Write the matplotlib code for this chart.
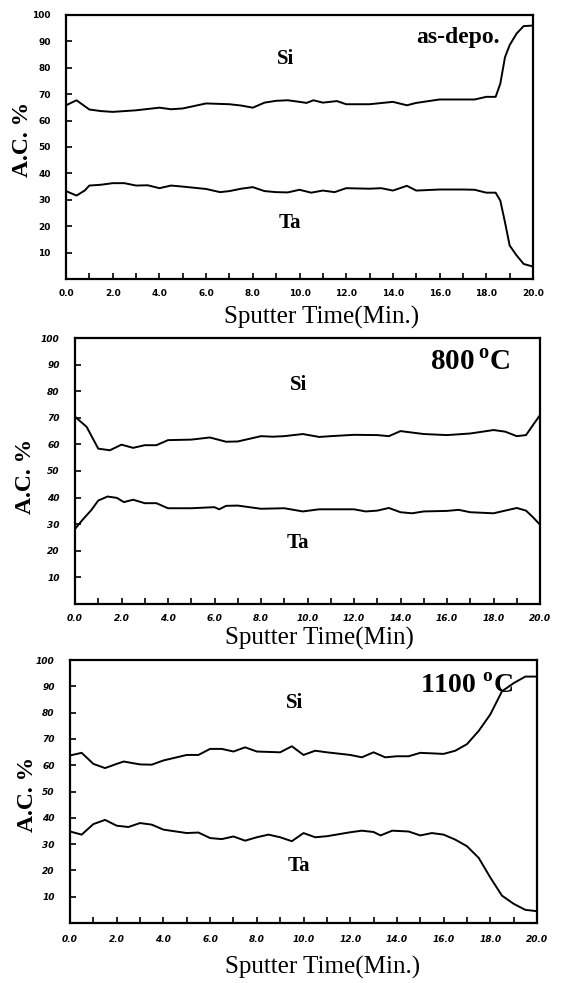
import numpy as np
import matplotlib.pyplot as plt

# depth profiles: atomic concentration (%) vs sputter time (min)
t_asdep = [0, 0.45, 1.0, 1.5, 2.0, 3.0, 4.0, 4.5, 5.0, 6.0, 7.0, 7.5, 8.0, 8.5, 9.0, 9.5, 10.0,
           10.3, 10.6, 11.0, 11.6, 12.0, 13.0, 14.0, 14.6, 15.0, 16.0, 17.0, 17.5, 18.0, 18.4,
           18.6, 18.8, 19.0, 19.3, 19.6, 20.0]
si_asdep = [65.8, 67.7, 64.2, 63.6, 63.3, 63.9, 64.9, 64.3, 64.6, 66.5, 66.2, 65.7, 64.9, 66.8,
            67.5, 67.7, 67.1, 66.7, 67.7, 66.8, 67.4, 66.2, 66.2, 67.1, 65.8, 66.7, 68.0, 68.0,
            68.0, 69.0, 69.0, 74.0, 84.0, 88.6, 93.0, 95.8, 96.0]
t_asdep_ta = [0, 0.45, 0.8, 1.0, 1.5, 2.0, 2.5, 3.0, 3.5, 4.0, 4.5, 5.0, 6.0, 6.6, 7.0, 7.5, 8.0,
              8.5, 9.0, 9.5, 10.0, 10.5, 11.0, 11.5, 12.0, 13.0, 13.5, 14.0, 14.6, 15.0, 16.0,
              17.0, 17.5, 18.0, 18.4, 18.6, 18.8, 19.0, 19.3, 19.6, 20.0]
ta_asdep = [33.3, 31.6, 33.5, 35.4, 35.7, 36.3, 36.3, 35.4, 35.5, 34.4, 35.4, 35.0, 34.1, 32.9,
            33.3, 34.2, 34.8, 33.3, 32.9, 32.8, 33.8, 32.7, 33.5, 32.9, 34.4, 34.2, 34.4, 33.5,
            35.3, 33.5, 33.9, 33.9, 33.8, 32.7, 32.7, 29.7, 21.5, 12.7, 8.9, 5.7, 4.7]

t_800 = [0, 0.5, 1.0, 1.5, 2.0, 2.5, 3.0, 3.5, 4.0, 5.0, 5.8, 6.5, 7.0, 8.0, 8.5, 9.0, 9.8,
         10.5, 11.0, 12.0, 13.0, 13.5, 14.0, 15.0, 16.0, 17.0, 18.0, 18.5, 19.0, 19.4, 19.7, 20.0]
si_800 = [70.4, 66.6, 58.4, 57.8, 59.9, 58.7, 59.7, 59.7, 61.6, 61.8, 62.6, 61.0, 61.1, 63.1,
          62.9, 63.1, 63.9, 62.8, 63.1, 63.6, 63.5, 63.1, 65.0, 63.9, 63.5, 64.1, 65.4, 64.8,
          63.1, 63.5, 67.3, 71.0]
t_800_ta = [0, 0.3, 0.7, 1.0, 1.4, 1.8, 2.1, 2.5, 3.0, 3.5, 4.0, 5.0, 6.0, 6.2, 6.5, 7.0, 7.5,
            8.0, 9.0, 9.8, 10.5, 11.0, 12.0, 12.5, 13.0, 13.5, 14.0, 14.5, 15.0, 16.0, 16.5,
            17.0, 18.0, 18.5, 19.0, 19.4, 19.7, 20.0]
ta_800 = [28.2, 31.4, 35.3, 38.9, 40.4, 39.9, 38.3, 39.2, 37.9, 37.9, 36.0, 36.0, 36.4, 35.6,
          36.9, 37.0, 36.4, 35.8, 36.0, 34.8, 35.6, 35.6, 35.6, 34.8, 35.1, 36.1, 34.5, 34.1,
          34.8, 35.0, 35.4, 34.5, 34.1, 35.1, 36.1, 35.1, 32.6, 29.8]

t_1100 = [0, 0.5, 1.0, 1.5, 2.0, 2.3, 3.0, 3.5, 4.0, 5.0, 5.5, 6.0, 6.5, 7.0, 7.5, 8.0, 9.0,
          9.5, 10.0, 10.5, 11.0, 12.0, 12.5, 13.0, 13.5, 14.0, 14.5, 15.0, 16.0, 16.5, 17.0,
          17.5, 18.0, 18.5, 19.0, 19.5, 20.0]
si_1100 = [63.7, 64.7, 60.5, 58.9, 60.5, 61.4, 60.3, 60.2, 61.8, 63.9, 63.9, 66.2, 66.2, 65.2,
           66.8, 65.2, 64.9, 67.2, 63.9, 65.5, 64.9, 63.9, 63.0, 64.9, 63.0, 63.4, 63.4, 64.7,
           64.3, 65.5, 68.0, 73.0, 79.3, 88.1, 91.2, 93.7, 93.7]
t_1100_ta = [0, 0.5, 1.0, 1.5, 2.0, 2.5, 3.0, 3.5, 4.0, 5.0, 5.5, 6.0, 6.5, 7.0, 7.5, 8.0, 8.5,
             9.0, 9.5, 10.0, 10.5, 11.0, 12.0, 12.5, 13.0, 13.3, 13.8, 14.5, 15.0, 15.5, 16.0,
             16.5, 17.0, 17.5, 18.0, 18.5, 19.0, 19.5, 20.0]
ta_1100 = [34.8, 33.6, 37.6, 39.2, 37.0, 36.5, 38.0, 37.4, 35.5, 34.2, 34.4, 32.3, 31.9, 32.9,
           31.3, 32.6, 33.6, 32.6, 31.1, 34.2, 32.6, 33.0, 34.5, 35.1, 34.6, 33.3, 35.1, 34.8,
           33.3, 34.2, 33.6, 31.7, 29.2, 24.8, 17.3, 10.4, 7.3, 5.0, 4.5]

W, H = 561, 983


def px_rect(x0, x1, ytop, ybot):
    return [x0 / W, 1 - ybot / H, (x1 - x0) / W, (ybot - ytop) / H]


panels = [
    dict(rect=px_rect(66, 533, 15, 279), t_si=t_asdep, si=si_asdep, t_ta=t_asdep_ta, ta=ta_asdep,
         tag='as-depo.', tag_xy=(16.8, 91.5), tag_size=17, si_xy=(9.4, 83.5), ta_xy=(9.6, 21.3),
         xlabel='Sputter Time(Min.)', xlab_xy=(0.548, -0.102), ylab_xy=(-0.071, 0.53),
         italic=False, xpad=7),
    dict(rect=px_rect(75, 540, 338, 604), t_si=t_800, si=si_800, t_ta=t_800_ta, ta=ta_800,
         tag='800$\\,^{\\mathbf{o}}$C', tag_xy=(17.0, 91), tag_size=21, si_xy=(9.6, 82.3), ta_xy=(9.6, 23),
         xlabel='Sputter Time(Min)', xlab_xy=(0.525, -0.085), ylab_xy=(-0.084, 0.48),
         italic=True, xpad=7),
    dict(rect=px_rect(70, 537, 660, 923), t_si=t_1100, si=si_1100, t_ta=t_1100_ta, ta=ta_1100,
         tag='1100 $^{\\mathbf{o}}$C', tag_xy=(17.0, 90), tag_size=20, si_xy=(9.6, 83.8), ta_xy=(9.8, 21.8),
         xlabel='Sputter Time(Min.)', xlab_xy=(0.54, -0.125), ylab_xy=(-0.069, 0.49),
         italic=True, xpad=9),
]

serif = ['Liberation Serif', 'DejaVu Serif']
plt.rcParams['mathtext.fontset'] = 'custom'
plt.rcParams['mathtext.rm'] = 'Liberation Serif'
plt.rcParams['mathtext.bf'] = 'Liberation Serif:bold'

fig = plt.figure(figsize=(W / 100, H / 100), dpi=100)

for p in panels:
    ax = fig.add_axes(p['rect'])
    ax.plot(p['t_si'], p['si'], color='black', linewidth=1.4)
    ax.plot(p['t_ta'], p['ta'], color='black', linewidth=1.4)
    ax.set_xlim(0, 20)
    ax.set_ylim(0, 100)
    ax.set_xticks(np.arange(0, 21, 2))
    ax.set_xticks(np.arange(1, 20, 2), minor=True)
    ax.set_yticks(np.arange(10, 101, 10))
    ax.set_xticklabels(['%.1f' % v for v in np.arange(0, 21, 2)])
    style = 'italic' if p['italic'] else 'normal'
    for lab in ax.get_xticklabels() + ax.get_yticklabels():
        lab.set_fontfamily('DejaVu Sans')
        lab.set_fontweight('bold')
        lab.set_fontsize(6.5)
        lab.set_fontstyle(style)
    ax.tick_params(axis='both', which='both', direction='in', length=4, width=1.2)
    ax.tick_params(axis='x', pad=p['xpad'])
    ax.tick_params(axis='y', pad=11)
    ax.tick_params(top=False, right=False)
    for s in ax.spines.values():
        s.set_linewidth(1.6)

    ax.text(*p['si_xy'], 'Si', family=serif, fontweight='bold', fontsize=15, ha='center', va='center')
    ax.text(*p['ta_xy'], 'Ta', family=serif, fontweight='bold', fontsize=15, ha='center', va='center')
    ax.text(*p['tag_xy'], p['tag'], family=serif, fontweight='bold', fontsize=p['tag_size'],
            ha='center', va='center')

    ax.set_xlabel(p['xlabel'], family=serif, fontsize=18)
    ax.xaxis.set_label_coords(*p['xlab_xy'])
    ax.set_ylabel('A.C. %', family=serif, fontweight='bold', fontsize=17)
    ax.yaxis.set_label_coords(*p['ylab_xy'])

fig.savefig('out.png', dpi=100)
